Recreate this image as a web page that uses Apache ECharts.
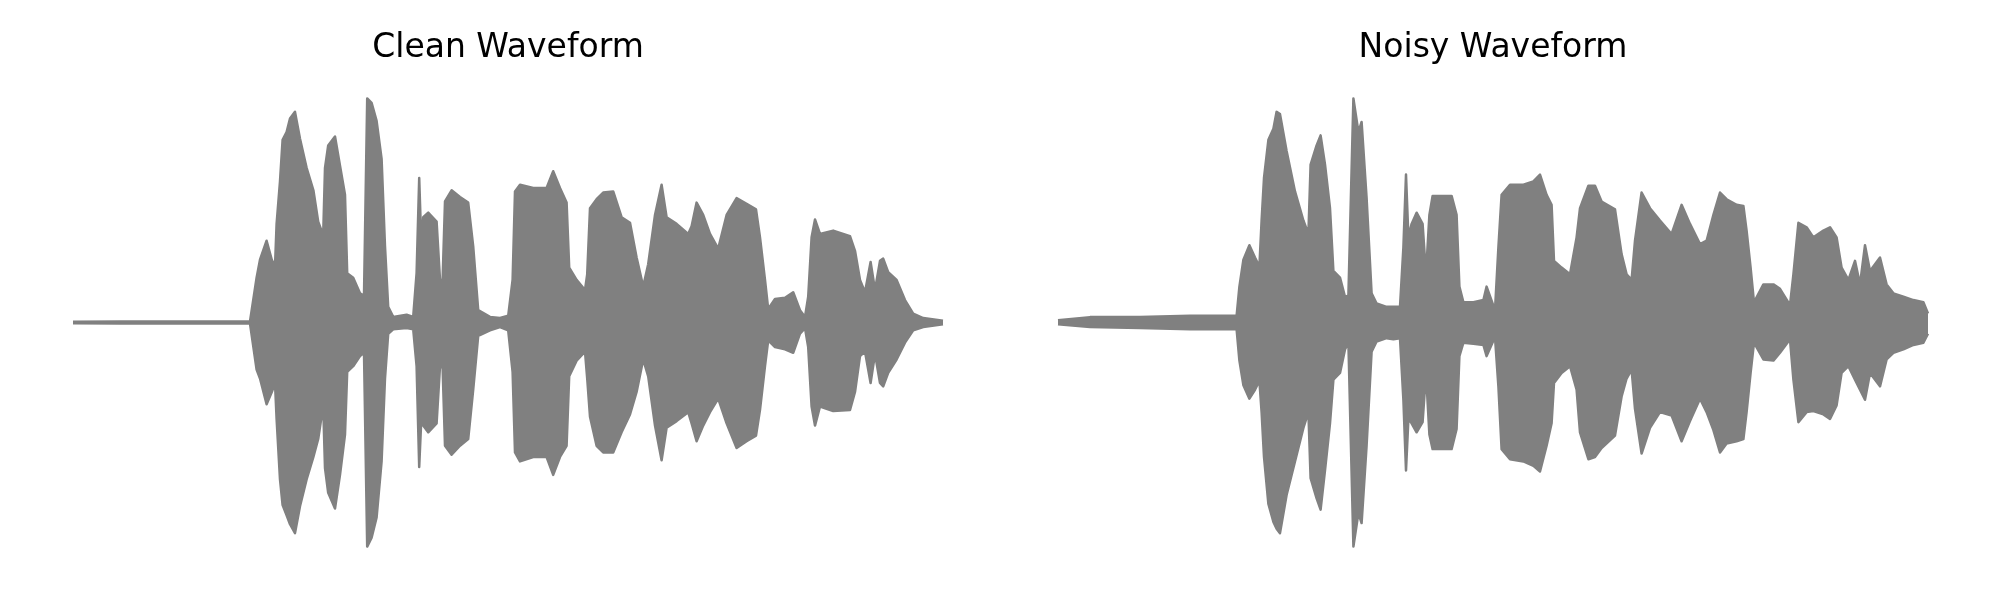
<!DOCTYPE html>
<html>
<head>
<meta charset="utf-8">
<script src="https://cdn.jsdelivr.net/npm/echarts@6/dist/echarts.min.js"></script>
<style>
  html, body { margin: 0; padding: 0; background: #ffffff; }
  #chart { width: 2000px; height: 600px; }
</style>
</head>
<body>
<div id="chart"></div>
<script>
// Envelope of the waveform (time in seconds, amplitude normalised)
const cleanTime = [0, 0.235, 0.535, 0.785, 0.885, 0.894, 0.918, 0.935, 0.968, 0.994,
  1.010, 1.018, 1.035, 1.048, 1.068, 1.085, 1.110, 1.135, 1.168, 1.202,
  1.226, 1.251, 1.260, 1.276, 1.310, 1.335, 1.360, 1.371, 1.401, 1.435,
  1.455, 1.471, 1.493, 1.518, 1.543, 1.560, 1.576, 1.601, 1.668, 1.701,
  1.718, 1.731, 1.743, 1.751, 1.776, 1.818, 1.835, 1.848, 1.860, 1.893,
  1.935, 1.976, 2.001, 2.026, 2.085, 2.135, 2.176, 2.198, 2.210, 2.235,
  2.301, 2.368, 2.401, 2.435, 2.468, 2.481, 2.518, 2.560, 2.571, 2.585,
  2.618, 2.651, 2.701, 2.743, 2.785, 2.818, 2.851, 2.876, 2.910, 2.943,
  2.968, 3.018, 3.076, 3.093, 3.118, 3.151, 3.185, 3.226, 3.268, 3.318,
  3.368, 3.415, 3.435, 3.460, 3.476, 3.510, 3.560, 3.601, 3.635, 3.660,
  3.676, 3.693, 3.710, 3.735, 3.801, 3.885, 3.910, 3.935, 3.960, 3.988,
  4.010, 4.035, 4.051, 4.076, 4.118, 4.160, 4.201, 4.251, 4.350];

const cleanUpper = [0.003, 0.005, 0.004, 0.005, 0.005, 0.01, 0.20, 0.28, 0.365, 0.28,
  0.25, 0.44, 0.63, 0.815, 0.85, 0.91, 0.94, 0.82, 0.69, 0.59,
  0.45, 0.39, 0.69, 0.79, 0.83, 0.70, 0.57, 0.22, 0.20, 0.13,
  0.12, 1.0, 0.98, 0.90, 0.73, 0.34, 0.07, 0.025, 0.035, 0.025,
  0.22, 0.645, 0.31, 0.47, 0.49, 0.45, 0.19, 0.19, 0.54, 0.59,
  0.56, 0.535, 0.34, 0.055, 0.025, 0.02, 0.03, 0.19, 0.585, 0.615,
  0.60, 0.60, 0.675, 0.60, 0.535, 0.245, 0.19, 0.145, 0.215, 0.51,
  0.55, 0.58, 0.585, 0.47, 0.445, 0.29, 0.16, 0.26, 0.48, 0.615,
  0.47, 0.44, 0.395, 0.43, 0.535, 0.48, 0.395, 0.33, 0.48, 0.555,
  0.53, 0.505, 0.38, 0.19, 0.06, 0.105, 0.11, 0.135, 0.055, 0.025,
  0.115, 0.38, 0.46, 0.395, 0.41, 0.385, 0.32, 0.19, 0.135, 0.27,
  0.145, 0.275, 0.285, 0.225, 0.19, 0.10, 0.04, 0.02, 0.008];

const cleanLower = [-0.003, -0.005, -0.004, -0.005, -0.005, -0.01, -0.21, -0.25, -0.365, -0.31,
  -0.27, -0.43, -0.70, -0.815, -0.86, -0.90, -0.94, -0.82, -0.70, -0.60,
  -0.52, -0.37, -0.65, -0.76, -0.83, -0.68, -0.50, -0.22, -0.195, -0.15,
  -0.135, -1.0, -0.96, -0.87, -0.62, -0.25, -0.05, -0.03, -0.025, -0.03,
  -0.195, -0.645, -0.40, -0.46, -0.49, -0.45, -0.195, -0.20, -0.55, -0.59,
  -0.55, -0.52, -0.30, -0.06, -0.035, -0.02, -0.035, -0.22, -0.58, -0.62,
  -0.60, -0.60, -0.68, -0.60, -0.55, -0.24, -0.17, -0.13, -0.25, -0.42,
  -0.55, -0.58, -0.58, -0.49, -0.41, -0.31, -0.165, -0.24, -0.46, -0.615,
  -0.47, -0.44, -0.40, -0.45, -0.53, -0.46, -0.40, -0.34, -0.45, -0.56,
  -0.53, -0.505, -0.39, -0.195, -0.08, -0.11, -0.12, -0.135, -0.05, -0.025,
  -0.11, -0.375, -0.46, -0.375, -0.395, -0.39, -0.31, -0.15, -0.13, -0.27,
  -0.14, -0.27, -0.285, -0.225, -0.165, -0.09, -0.035, -0.02, -0.008];

const noisyTime = [0, 0.16, 0.41, 0.66, 0.893, 0.907, 0.927, 0.957, 0.985, 1.007,
  1.018, 1.030, 1.052, 1.077, 1.093, 1.110, 1.143, 1.185, 1.227, 1.252,
  1.263, 1.293, 1.313, 1.335, 1.360, 1.377, 1.410, 1.435, 1.452, 1.477,
  1.502, 1.518, 1.543, 1.568, 1.593, 1.643, 1.677, 1.710, 1.727, 1.740,
  1.752, 1.768, 1.793, 1.823, 1.840, 1.857, 1.873, 1.910, 1.968, 1.993,
  2.007, 2.027, 2.077, 2.127, 2.143, 2.185, 2.202, 2.218, 2.260, 2.327,
  2.377, 2.410, 2.443, 2.468, 2.480, 2.518, 2.560, 2.593, 2.610, 2.652,
  2.685, 2.718, 2.785, 2.818, 2.843, 2.868, 2.885, 2.918, 2.960, 3.010,
  3.068, 3.118, 3.160, 3.210, 3.243, 3.277, 3.310, 3.343, 3.393, 3.427,
  3.443, 3.463, 3.480, 3.527, 3.577, 3.610, 3.660, 3.677, 3.702, 3.743,
  3.777, 3.827, 3.860, 3.893, 3.918, 3.952, 3.985, 4.010, 4.035, 4.060,
  4.110, 4.143, 4.177, 4.227, 4.277, 4.327, 4.350];

const noisyUpper = [0.01, 0.024, 0.024, 0.03, 0.03, 0.16, 0.28, 0.345, 0.29, 0.25,
  0.455, 0.645, 0.815, 0.865, 0.94, 0.93, 0.765, 0.585, 0.455, 0.395,
  0.705, 0.79, 0.835, 0.705, 0.51, 0.23, 0.20, 0.115, 0.12, 1.0,
  0.85, 0.895, 0.555, 0.13, 0.085, 0.07, 0.07, 0.07, 0.335, 0.66,
  0.38, 0.44, 0.49, 0.44, 0.215, 0.48, 0.565, 0.565, 0.565, 0.48,
  0.16, 0.09, 0.09, 0.10, 0.16, 0.055, 0.335, 0.57, 0.615, 0.615,
  0.63, 0.66, 0.57, 0.525, 0.275, 0.245, 0.215, 0.38, 0.51, 0.61,
  0.61, 0.54, 0.505, 0.305, 0.215, 0.19, 0.365, 0.58, 0.51, 0.455,
  0.395, 0.525, 0.44, 0.35, 0.365, 0.48, 0.58, 0.55, 0.525, 0.52,
  0.41, 0.245, 0.09, 0.17, 0.17, 0.15, 0.077, 0.215, 0.445, 0.425,
  0.38, 0.41, 0.425, 0.38, 0.245, 0.19, 0.275, 0.17, 0.345, 0.23,
  0.29, 0.17, 0.13, 0.115, 0.10, 0.09, 0.04];

const noisyLower = [-0.008, -0.02, -0.025, -0.03, -0.03, -0.17, -0.28, -0.34, -0.30, -0.26,
  -0.40, -0.60, -0.81, -0.89, -0.92, -0.94, -0.77, -0.62, -0.47, -0.40,
  -0.695, -0.785, -0.835, -0.66, -0.45, -0.255, -0.225, -0.12, -0.09, -1.0,
  -0.85, -0.895, -0.55, -0.13, -0.085, -0.07, -0.075, -0.07, -0.345, -0.66,
  -0.43, -0.45, -0.49, -0.445, -0.225, -0.50, -0.565, -0.565, -0.565, -0.475,
  -0.15, -0.09, -0.095, -0.10, -0.15, -0.065, -0.285, -0.565, -0.61, -0.62,
  -0.64, -0.665, -0.55, -0.45, -0.27, -0.225, -0.195, -0.30, -0.49, -0.61,
  -0.60, -0.56, -0.505, -0.33, -0.25, -0.21, -0.385, -0.585, -0.47, -0.40,
  -0.415, -0.53, -0.44, -0.34, -0.40, -0.48, -0.58, -0.54, -0.53, -0.52,
  -0.40, -0.225, -0.09, -0.165, -0.17, -0.135, -0.075, -0.255, -0.445, -0.40,
  -0.395, -0.41, -0.43, -0.37, -0.225, -0.195, -0.255, -0.30, -0.345, -0.225,
  -0.285, -0.165, -0.135, -0.12, -0.10, -0.09, -0.05];

const panelTitles = ['Clean Waveform', 'Noisy Waveform'];

const WAVE = '#808080';
function pairs(t, v) { return t.map((x, i) => [x, v[i]]); }
// Upper edge filled down just past the centre, lower edge filled up just past it,
// so the two filled halves overlap and leave no seam on the centre line.
function edgeSeries(idx, data, origin) {
  return {
    type: 'line', xAxisIndex: idx, yAxisIndex: idx, data: data,
    symbol: 'none', showSymbol: false, smooth: false, silent: true, animation: false,
    lineStyle: { color: WAVE, width: 2.5, join: 'round' },
    areaStyle: { color: WAVE, opacity: 1, origin: origin }
  };
}

const chart = echarts.init(document.getElementById('chart'), null, { renderer: 'canvas' });
const gridTop = 76, gridBottom = 31;
chart.setOption({
  backgroundColor: '#ffffff',
  animation: false,
  grid: [
    { left: 73, width: 870, top: gridTop, bottom: gridBottom },
    { left: 1058, width: 870, top: gridTop, bottom: gridBottom }
  ],
  xAxis: [0, 1].map(i => ({ type: 'value', gridIndex: i, min: 0, max: 4.35, show: false })),
  yAxis: [0, 1].map(i => ({ type: 'value', gridIndex: i, min: -1.1, max: 1.1, show: false })),
  graphic: [
    { type: 'text', x: 508, y: 48, style: { text: panelTitles[0], font: '33px "DejaVu Sans"', fill: '#000000', align: 'center', verticalAlign: 'middle' } },
    { type: 'text', x: 1493, y: 48, style: { text: panelTitles[1], font: '33px "DejaVu Sans"', fill: '#000000', align: 'center', verticalAlign: 'middle' } }
  ],
  series: [
    edgeSeries(0, pairs(cleanTime, cleanUpper), -0.004),
    edgeSeries(0, pairs(cleanTime, cleanLower), 0.004),
    edgeSeries(1, pairs(noisyTime, noisyUpper), -0.004),
    edgeSeries(1, pairs(noisyTime, noisyLower), 0.004)
  ]
});
</script>
</body>
</html>
